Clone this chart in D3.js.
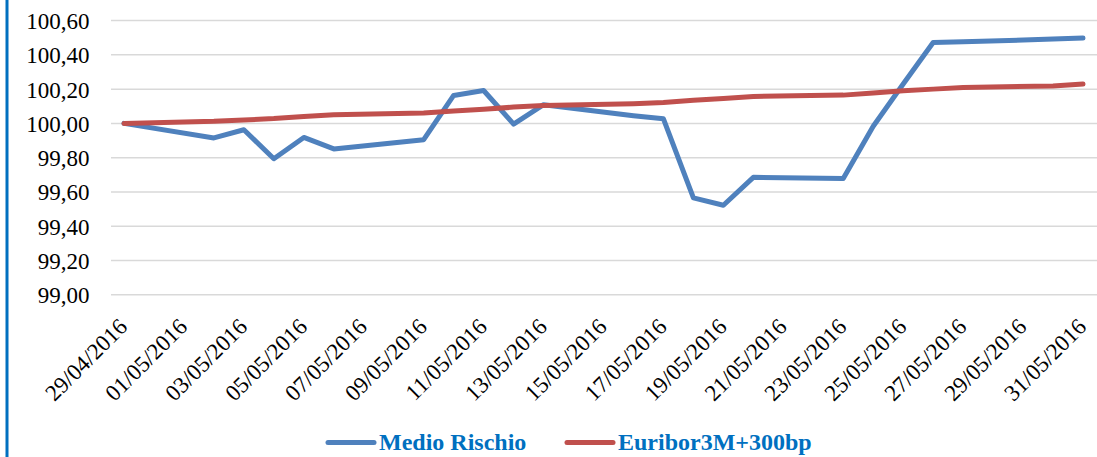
<!DOCTYPE html>
<html>
<head>
<meta charset="utf-8">
<script src="https://cdn.jsdelivr.net/npm/d3@7"></script>
<style>
  html, body { margin: 0; padding: 0; background: #fff; }
  svg { display: block; }
</style>
</head>
<body>
<svg id="chart" width="1097" height="457"></svg>
<script>
// ---- data ----
const axisDates = ["29/04/2016","30/04/2016","01/05/2016","02/05/2016","03/05/2016","04/05/2016","05/05/2016","06/05/2016","07/05/2016","08/05/2016","09/05/2016","10/05/2016","11/05/2016","12/05/2016","13/05/2016","14/05/2016","15/05/2016","16/05/2016","17/05/2016","18/05/2016","19/05/2016","20/05/2016","21/05/2016","22/05/2016","23/05/2016","24/05/2016","25/05/2016","26/05/2016","27/05/2016","28/05/2016","29/05/2016","30/05/2016","31/05/2016"];
const tickLabels = ["29/04/2016","01/05/2016","03/05/2016","05/05/2016","07/05/2016","09/05/2016","11/05/2016","13/05/2016","15/05/2016","17/05/2016","19/05/2016","21/05/2016","23/05/2016","25/05/2016","27/05/2016","29/05/2016","31/05/2016"];
const obsDates = ["29/04/2016","02/05/2016","03/05/2016","04/05/2016","05/05/2016","06/05/2016","09/05/2016","10/05/2016","11/05/2016","12/05/2016","13/05/2016","16/05/2016","17/05/2016","18/05/2016","19/05/2016","20/05/2016","23/05/2016","24/05/2016","25/05/2016","26/05/2016","27/05/2016","30/05/2016","31/05/2016"];
const medioRischio = [100.000, 99.915, 99.963, 99.794, 99.918, 99.851, 99.905, 100.163, 100.192, 99.996, 100.109, 100.045, 100.027, 99.565, 99.522, 99.685, 99.679, 99.983, 100.230, 100.472, 100.476, 100.492, 100.498];
const euribor = [100.000, 100.012, 100.020, 100.028, 100.040, 100.050, 100.060, 100.072, 100.082, 100.095, 100.105, 100.115, 100.122, 100.135, 100.145, 100.157, 100.165, 100.178, 100.190, 100.200, 100.210, 100.218, 100.230];
const yTicks = [99.0, 99.2, 99.4, 99.6, 99.8, 100.0, 100.2, 100.4, 100.6];
const seriesNames = ["Medio Rischio", "Euribor3M+300bp"];
const seriesColors = ["#4F81BD", "#C0504D"];

// ---- layout ----
const FONT = "'Liberation Serif', 'Times New Roman', serif";
const svg = d3.select("#chart");
const plotLeft = 111, plotRight = 1097;
const x = d3.scalePoint().domain(axisDates).range([124, 1083]);
const y = d3.scaleLinear().domain([99.0, 100.6]).range([294.7, 20.6]);

// left border
svg.append("rect").attr("x", 5.5).attr("y", 0).attr("width", 3).attr("height", 457).attr("fill", "#0070C0");

// gridlines
svg.append("g").selectAll("line").data(yTicks).join("line")
  .attr("x1", plotLeft).attr("x2", plotRight)
  .attr("y1", d => y(d)).attr("y2", d => y(d))
  .attr("stroke", "#d9d9d9").attr("stroke-width", 1.5);

// y axis labels
const fmt = v => v.toFixed(2).replace(".", ",");
const yAxis = d3.axisLeft(y).tickValues(yTicks).tickFormat(fmt).tickSize(0).tickPadding(0);
const yg = svg.append("g").attr("transform", `translate(89.5,0)`).call(yAxis)
  .attr("font-family", FONT).attr("font-size", 23);
yg.select(".domain").remove();
yg.selectAll("text")
  .style("font-family", FONT).style("font-size", "23px").style("fill", "#000")
  .attr("dy", "0.35em");

// x axis labels
const xAxis = d3.axisBottom(x).tickValues(tickLabels).tickSize(0).tickPadding(0);
const xg = svg.append("g").call(xAxis).attr("font-family", FONT).attr("font-size", 23);
xg.select(".domain").remove();
xg.selectAll(".tick").attr("transform", d => `translate(${x(d) - 1},322.5)`);
xg.selectAll("text")
  .style("font-family", FONT).style("font-size", "23px").style("fill", "#000")
  .attr("text-anchor", "end").attr("dy", "0.35em").attr("y", 0).attr("x", 0)
  .attr("transform", "rotate(-45)");

// lines
const line = d3.line().x((d, i) => x(obsDates[i])).y(d => y(d));
[medioRischio, euribor].forEach((vals, k) => {
  svg.append("path").datum(vals).attr("d", line)
    .attr("fill", "none").attr("stroke", seriesColors[k]).attr("stroke-width", 5)
    .attr("stroke-linejoin", "round").attr("stroke-linecap", "round");
});

// legend
const legendItems = [{x: 326, tx: 379}, {x: 565, tx: 618}];
seriesNames.forEach((name, k) => {
  const it = legendItems[k];
  svg.append("line").attr("x1", it.x + 2).attr("x2", it.x + 48).attr("y1", 442.5).attr("y2", 442.5)
    .attr("stroke", seriesColors[k]).attr("stroke-width", 5).attr("stroke-linecap", "round");
  svg.append("text").attr("x", it.tx).attr("y", 450).text(name)
    .style("font-family", FONT).style("font-weight", "bold").style("font-size", "24px").style("fill", "#0070C0");
});
</script>
</body>
</html>
